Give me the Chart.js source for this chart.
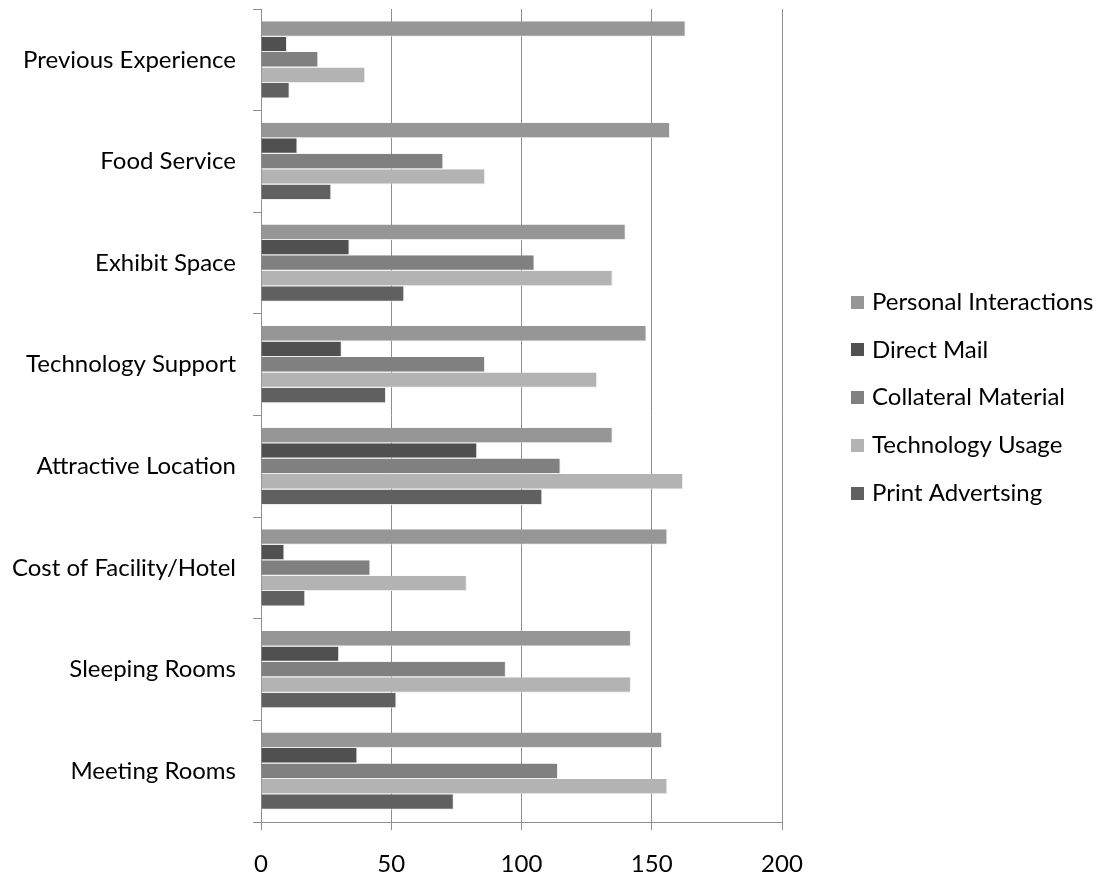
<!DOCTYPE html>
<html>
<head>
<meta charset="utf-8">
<script src="https://cdn.jsdelivr.net/npm/chart.js@4.4.0/dist/chart.umd.min.js"></script>
<style>
  html, body { margin: 0; padding: 0; background: #ffffff; }
  #wrap { width: 1109px; height: 877px; position: relative; }
</style>
</head>
<body>
<div id="wrap"><canvas id="c" width="1109" height="877"></canvas></div>
<script>
// ---- data ----
const categories = [
  'Previous Experience',
  'Food Service',
  'Exhibit Space',
  'Technology Support',
  'Attractive Location',
  'Cost of Facility/Hotel',
  'Sleeping Rooms',
  'Meeting Rooms'
];
const seriesNames = [
  'Personal Interactions',
  'Direct Mail',
  'Collateral Material',
  'Technology Usage',
  'Print Advertsing'
];
const personalInteractions = [163, 157, 140, 148, 135, 156, 142, 154];
const directMail           = [10, 14, 34, 31, 83, 9, 30, 37];
const collateralMaterial   = [22, 70, 105, 86, 115, 42, 94, 114];
const technologyUsage      = [40, 86, 135, 129, 162, 79, 142, 156];
const printAdvertsing      = [11, 27, 55, 48, 108, 17, 52, 74];
const xTickValues = [0, 50, 100, 150, 200];

// ---- styles ----
const seriesColors = ['#969696', '#505050', '#808080', '#b3b3b3', '#606060'];
const seriesValues = [personalInteractions, directMail, collateralMaterial, technologyUsage, printAdvertsing];
const FONT_FAMILY = 'Lato, "Open Sans", sans-serif';
const FONT_SIZE = 24;
const AXIS_GRAY = '#8e8e8e';

const sideLegend = {
  id: 'sideLegend',
  afterDraw(chart, args, o) {
    const ctx = chart.ctx;
    ctx.save();
    ctx.font = FONT_SIZE + 'px ' + FONT_FAMILY;
    ctx.textBaseline = 'middle';
    ctx.textAlign = 'left';
    chart.data.datasets.forEach((ds, i) => {
      const y = o.top + i * o.spacing;
      ctx.fillStyle = ds.backgroundColor;
      ctx.fillRect(o.boxX, Math.round(y - o.box / 2), o.box, o.box);
      ctx.fillStyle = '#000000';
      ctx.fillText(ds.label, o.textX, y);
    });
    ctx.restore();
  }
};

const datasets = seriesNames.map((name, i) => ({
  label: name,
  data: seriesValues[i],
  backgroundColor: seriesColors[i],
  borderColor: 'rgba(235,235,235,0.9)',
  borderWidth: { top: 0, right: 1, bottom: 1, left: 0 },
  borderSkipped: false,
  categoryPercentage: 0.76,
  barPercentage: 1.0
}));

new Chart(document.getElementById('c'), {
  type: 'bar',
  data: { labels: categories, datasets: datasets },
  plugins: [sideLegend],
  options: {
    indexAxis: 'y',
    responsive: false,
    animation: false,
    devicePixelRatio: 1,
    layout: { padding: { top: 9, right: 327, bottom: 0, left: 0 } },
    plugins: {
      legend: { display: false },
      tooltip: { enabled: false },
      sideLegend: { boxX: 851, box: 13, textX: 872, top: 302, spacing: 47.8 }
    },
    scales: {
      x: {
        type: 'linear',
        position: 'bottom',
        min: 0,
        max: 200,
        afterBuildTicks: (s) => { s.ticks = xTickValues.map(v => ({ value: v })); },
        afterFit: (s) => { s.height = 55; },
        grid: { color: AXIS_GRAY, lineWidth: 1, tickLength: 8, drawTicks: true },
        border: { color: AXIS_GRAY, width: 1 },
        ticks: { color: '#000000', padding: 20, font: { family: FONT_FAMILY, size: FONT_SIZE } }
      },
      y: {
        type: 'category',
        position: 'left',
        offset: true,
        afterFit: (s) => { s.width = 261; s.paddingTop = 0; s.paddingBottom = 0; },
        grid: { offset: true, drawOnChartArea: false, color: AXIS_GRAY, tickLength: 8 },
        border: { color: AXIS_GRAY, width: 1 },
        ticks: { color: '#000000', padding: 17, font: { family: FONT_FAMILY, size: FONT_SIZE } }
      }
    }
  }
});
</script>
</body>
</html>
